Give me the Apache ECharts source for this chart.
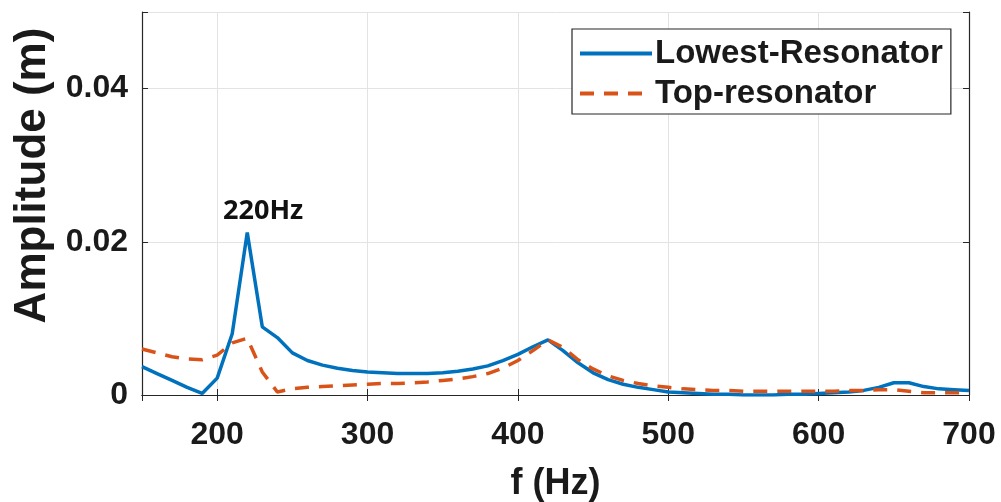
<!DOCTYPE html>
<html>
<head>
<meta charset="utf-8">
<script src="https://cdn.jsdelivr.net/npm/echarts@6/dist/echarts.min.js"></script>
<style>
html,body{margin:0;padding:0;background:#fff;}
#c{width:1001px;height:502px;}
</style>
</head>
<body>
<div id="c"></div>
<script>
var freqs = [150,160,170,180,190,200,210,220,230,240,250,260,270,280,290,300,310,320,330,340,350,360,370,380,390,400,410,420,430,440,450,460,470,480,490,500,510,520,530,540,550,560,570,580,590,600,610,620,630,640,650,660,670,680,690,700];
var lowest = [0.0037,0.0028,0.0019,0.0010,0.0002,0.0022,0.0080,0.0212,0.0089,0.0075,0.0055,0.0045,0.0039,0.0035,0.0032,0.0030,0.0029,0.0028,0.0028,0.0028,0.0029,0.0031,0.0034,0.0038,0.0045,0.0053,0.0063,0.0072,0.0058,0.0042,0.0029,0.0020,0.0014,0.0010,0.0007,0.0004,0.0003,0.0002,0.0001,0.0001,0.0000,0.0000,0.0000,0.0001,0.0001,0.0002,0.0003,0.0004,0.0006,0.0010,0.0016,0.0016,0.0011,0.0008,0.0007,0.0006];
var top_ = [0.0060,0.0055,0.0050,0.0047,0.0046,0.0052,0.0068,0.0074,0.0030,0.0004,0.0008,0.0010,0.0011,0.0012,0.0013,0.0014,0.0015,0.0015,0.0016,0.0017,0.0019,0.0021,0.0024,0.0028,0.0035,0.0045,0.0058,0.0072,0.0062,0.0046,0.0034,0.0025,0.0019,0.0015,0.0012,0.0010,0.0008,0.0007,0.0006,0.0006,0.0005,0.0005,0.0005,0.0005,0.0005,0.0005,0.0005,0.0006,0.0006,0.0007,0.0007,0.0005,0.0003,0.0003,0.0003,0.0003];
var seriesNames = ['Lowest-Resonator','Top-resonator'];
var annotation = {text:'220Hz', f:230.6, amp:0.0240};
var xRange = [150, 700];
var yRange = [0, 0.05];
var yStep = 0.02;

function pairs(xs, ys){ return xs.map(function(x,i){ return [x, ys[i]]; }); }

var FONT = 'Liberation Sans, Arial, sans-serif';
var TXT = '#1a1a1a';
var AX = '#262626';

var chart = echarts.init(document.getElementById('c'), null, {renderer:'canvas'});
chart.setOption({
  animation:false,
  backgroundColor:'#ffffff',
  grid:{left:142, right:32, top:12, bottom:107, containLabel:false, outerBoundsMode:'none'},
  legend:{
    orient:'vertical', left:572, top:29,
    backgroundColor:'#ffffff', borderColor:AX, borderWidth:1.2,
    padding:[8,8,4,6], itemGap:7, itemWidth:72, itemHeight:20,
    itemStyle:{color:'rgba(0,0,0,0)', borderWidth:0, opacity:0},
    lineStyle:{width:4},
    textStyle:{fontFamily:FONT, fontWeight:'bold', fontSize:33, lineHeight:30, color:TXT, padding:[0,0,0,-2]},
    data:seriesNames
  },
  xAxis:[{
    type:'value', min:xRange[0], max:xRange[1], splitNumber:5,
    name:'f (Hz)', nameLocation:'middle', nameGap:71,
    nameTextStyle:{fontFamily:FONT, fontWeight:'bold', fontSize:36, color:TXT},
    axisLine:{show:true, lineStyle:{color:AX, width:1.2}},
    axisTick:{show:true, inside:true, length:6, lineStyle:{color:AX}},
    axisLabel:{showMinLabel:false, margin:24, fontFamily:FONT, fontWeight:'bold', fontSize:32, color:TXT},
    splitLine:{show:true, lineStyle:{color:'#e3e3e3', width:1}}
  },{
    type:'value', position:'top', min:xRange[0], max:xRange[1], splitNumber:5,
    axisLine:{show:true, lineStyle:{color:AX, width:1.2}},
    axisTick:{show:true, inside:true, length:6, lineStyle:{color:AX}},
    axisLabel:{show:false}, splitLine:{show:false}
  }],
  yAxis:[{
    type:'value', min:yRange[0], max:yRange[1], interval:yStep,
    name:'Amplitude (m)', nameLocation:'middle', nameGap:84,
    nameTextStyle:{fontFamily:FONT, fontWeight:'bold', fontSize:44, color:TXT, padding:[0,0,0,56]},
    axisLine:{show:true, lineStyle:{color:AX, width:1.2}},
    axisTick:{show:true, inside:true, length:6, lineStyle:{color:AX}},
    axisLabel:{margin:14, fontFamily:FONT, fontWeight:'bold', fontSize:32, color:TXT,
      formatter:function(v){
        var k = Math.round(v / yStep);
        if (Math.abs(v - k*yStep) > 1e-9) return '';
        return v === 0 ? '0' : v.toFixed(2);
      }},
    splitLine:{show:true, lineStyle:{color:'#e3e3e3', width:1}}
  },{
    type:'value', position:'right', min:yRange[0], max:yRange[1], interval:yStep,
    axisLine:{show:true, lineStyle:{color:AX, width:1.2}},
    axisTick:{show:true, inside:true, length:6, lineStyle:{color:AX}},
    axisLabel:{show:false}, splitLine:{show:false}
  }],
  series:[{
    name:seriesNames[0], type:'line', data:pairs(freqs, lowest),
    showSymbol:false, symbol:'none', smooth:false, z:3,
    lineStyle:{color:'#0072BD', width:3.5},
    itemStyle:{color:'#0072BD'},
    markPoint:{
      symbol:'circle', symbolSize:0, silent:true, animation:false,
      data:[{coord:[annotation.f, annotation.amp], value:annotation.text}],
      label:{show:true, position:'inside', formatter:annotation.text,
        fontFamily:'Open Sans, sans-serif', fontWeight:'bold', fontSize:27, color:'#111'}
    }
  },{
    name:seriesNames[1], type:'line', data:pairs(freqs, top_),
    showSymbol:false, symbol:'none', smooth:false, z:4,
    lineStyle:{color:'#D95319', width:3.5, type:[14,10]},
    itemStyle:{color:'#D95319'}
  }]
});
</script>
</body>
</html>
